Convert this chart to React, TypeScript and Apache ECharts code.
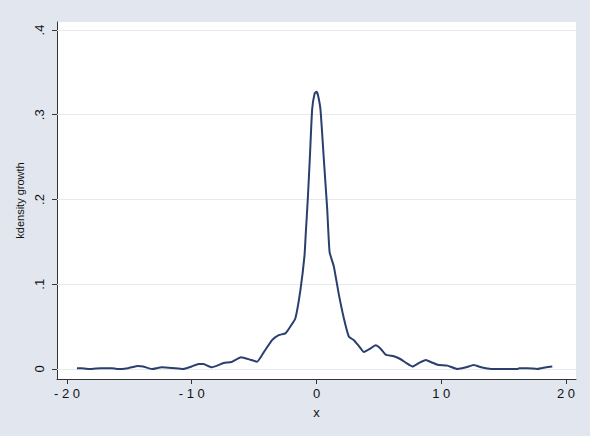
import React, { useEffect, useRef } from "react";
import * as echarts from "echarts";

const xTicks = [-20, -10, 0, 10, 20];
const xTickLabels = ["- 2 0", "- 1 0", "0", "1 0", "2 0"];
const yTicks = [0, 0.1, 0.2, 0.3, 0.4];
const yTickLabels = ["0", ".1", ".2", ".3", ".4"];

const densityX = [
  -19.2, -18.6, -18.0, -17.3, -16.4, -16.0, -15.1, -14.3, -13.9, -13.2, -12.4, -11.6,
  -10.7, -10.0, -9.45, -9.05, -8.4, -7.45, -6.8, -6.05, -5.3, -4.77, -4.26, -3.56,
  -3.03, -2.49, -2.1, -1.69, -1.29, -0.96, -0.86, -0.7, -0.54, -0.35, -0.15, 0,
  0.12, 0.32, 0.59, 0.86, 1.05, 1.39, 1.79, 2.19, 2.6, 3.0, 3.4, 3.8, 4.3, 4.74,
  5.14, 5.54, 6.2, 6.75, 7.2, 7.69, 8.2, 8.76, 9.2, 9.7, 10.5, 11.3, 12.0, 12.6,
  13.2, 14.0, 16.1, 16.25, 16.9, 17.7, 18.4, 18.9,
];
const densityY = [
  0.001, 0.0005, 0.0, 0.001, 0.001, 0.0, 0.001, 0.0035, 0.003, 0.0, 0.002, 0.0013,
  0.0, 0.003, 0.006, 0.0058, 0.002, 0.007, 0.0083, 0.0138, 0.011, 0.0086, 0.019, 0.034,
  0.04, 0.042, 0.05, 0.06, 0.093, 0.134, 0.16, 0.2, 0.247, 0.306, 0.325, 0.327,
  0.323, 0.306, 0.247, 0.188, 0.138, 0.121, 0.088, 0.06, 0.038, 0.034, 0.027, 0.02, 0.024, 0.028,
  0.024, 0.017, 0.015, 0.0115, 0.007, 0.003, 0.007, 0.0106, 0.008, 0.005, 0.004, 0.0, 0.002, 0.0047,
  0.002, 0.0, 0.0, 0.001, 0.001, 0.0, 0.002, 0.003,
];

export default function App() {
  const ref = useRef<HTMLDivElement>(null);
  useEffect(() => {
    if (!ref.current) return;
    const chart = echarts.init(ref.current, null, { renderer: "svg" });
    const font = "Liberation Sans, Arial, sans-serif";
    chart.setOption({
      animation: false,
      backgroundColor: "#e2e7ef",
      textStyle: { fontFamily: font },
      grid: {
        left: 57,
        right: 14,
        top: 22,
        bottom: 57,
        show: true,
        backgroundColor: "#ffffff",
        borderWidth: 0,
      },
      xAxis: {
        type: "value",
        min: -20.8,
        max: 20.8,
        name: "x",
        nameLocation: "middle",
        nameGap: 27,
        nameTextStyle: { fontSize: 13, color: "#111", fontFamily: font },
        axisLine: { show: true, onZero: false, lineStyle: { color: "#333", width: 1 } },
        axisTick: { show: true, length: 5, customValues: xTicks, lineStyle: { color: "#333" } },
        axisLabel: {
          customValues: xTicks,
          formatter: (v: number) => xTickLabels[xTicks.indexOf(Math.round(v))] ?? "",
          fontSize: 13,
          color: "#111",
          margin: 8,
          fontFamily: font,
        },
        splitLine: { show: false },
      },
      yAxis: {
        type: "value",
        min: -0.0118,
        max: 0.4094,
        name: "kdensity growth",
        nameLocation: "middle",
        nameGap: 28,
        nameRotate: 90,
        nameTextStyle: { fontSize: 11, color: "#111", fontFamily: font },
        axisLine: { show: true, onZero: false, lineStyle: { color: "#333", width: 1 } },
        axisTick: { show: true, length: 5, customValues: yTicks, lineStyle: { color: "#333" } },
        axisLabel: {
          customValues: yTicks,
          rotate: 90,
          formatter: (v: number) => {
            const i = yTicks.findIndex((t) => Math.abs(t - v) < 1e-6);
            return i >= 0 ? yTickLabels[i] : "";
          },
          fontSize: 13,
          color: "#111",
          margin: 11,
          fontFamily: font,
        },
        splitLine: { show: false },
      },
      series: [
        {
          type: "line",
          data: densityX.map((x, i) => [x, densityY[i]]),
          showSymbol: false,
          smooth: 0.15,
          lineStyle: { color: "#2a3f6e", width: 2 },
          z: 3,
          markLine: {
            silent: true,
            symbol: "none",
            label: { show: false },
            lineStyle: { color: "#e6eaef", width: 1, type: "solid" },
            data: yTicks.map((t) => ({ yAxis: t })),
            z: 1,
          },
        },
      ],
    });
    return () => chart.dispose();
  }, []);
  return (
    <div
      ref={ref}
      style={{ position: "absolute", left: 0, top: 0, width: 590, height: 436 }}
    />
  );
}
